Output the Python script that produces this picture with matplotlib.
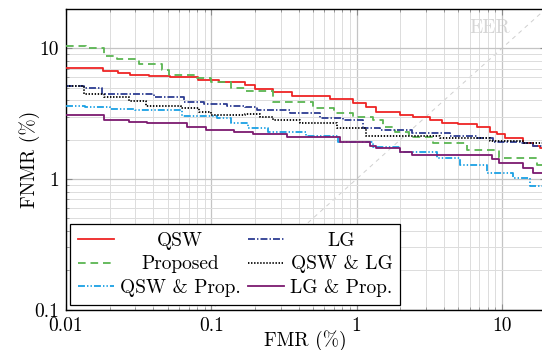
import matplotlib
matplotlib.use("Agg")
import matplotlib.pyplot as plt
from matplotlib.ticker import FixedLocator, FixedFormatter, LogLocator, NullFormatter

plt.rcParams["font.family"] = "serif"
plt.rcParams["font.serif"] = ["cmr10"]
plt.rcParams["mathtext.fontset"] = "cm"
plt.rcParams["axes.formatter.use_mathtext"] = True
plt.rcParams["lines.scale_dashes"] = False

# step curves: FMR where each level starts, FNMR level (%)
qsw_x = [0.01, 0.018, 0.0229, 0.0276, 0.037, 0.052, 0.081, 0.113, 0.171, 0.2, 0.267, 0.357,
         0.656, 0.944, 1.17, 1.37, 1.99, 2.44, 3.2, 3.85, 4.99, 6.7, 8.27, 9.2, 10.5, 14.0, 16.4, 18.3]
qsw_y = [7.1, 6.74, 6.5, 6.3, 6.13, 6.0, 5.75, 5.55, 5.24, 4.85, 4.65, 4.31,
         4.09, 3.84, 3.54, 3.27, 3.08, 2.96, 2.83, 2.67, 2.62, 2.51, 2.30, 2.20, 2.07, 1.90, 1.79, 1.72]

prop_x = [0.01, 0.0137, 0.0183, 0.0226, 0.0318, 0.046, 0.051, 0.080, 0.099, 0.136, 0.171, 0.267,
          0.503, 0.7, 0.944, 1.30, 1.52, 1.84, 2.3, 3.36, 5.73, 9.6, 17.5]
prop_y = [10.4, 10.0, 8.73, 8.24, 7.54, 6.82, 6.25, 5.96, 5.55, 4.94, 4.74, 3.9,
          3.47, 3.21, 2.99, 2.83, 2.51, 2.30, 2.11, 1.90, 1.67, 1.44, 1.28]

lg_x = [0.01, 0.0133, 0.0178, 0.0404, 0.0649, 0.089, 0.129, 0.171, 0.205, 0.348, 0.56, 0.806,
        1.11, 1.45, 2.4, 4.4, 6.7, 8.7, 13.3, 16.3]
lg_y = [5.18, 4.94, 4.47, 4.22, 3.9, 3.74, 3.62, 3.54, 3.37, 3.18, 2.91, 2.83,
        2.44, 2.37, 2.24, 2.14, 2.05, 1.93, 1.88, 1.79]

qsw_lg_x = [0.01, 0.0133, 0.0183, 0.0272, 0.0354, 0.0615, 0.082, 0.099, 0.171, 0.216, 0.267,
            0.407, 0.73, 1.17, 3.75, 8.27, 14.0]
qsw_lg_y = [5.18, 4.47, 4.22, 3.95, 3.65, 3.47, 3.27, 3.09, 3.12, 2.99, 2.83,
            2.7, 2.44, 2.14, 2.07, 1.96, 1.88]

qsw_prop_x = [0.01, 0.0135, 0.02, 0.03, 0.0628, 0.11, 0.136, 0.179, 0.245, 0.45, 0.745,
              1.30, 2.0, 3.57, 5.15, 7.9, 11.9, 15.6]
qsw_prop_y = [3.65, 3.57, 3.45, 3.37, 3.03, 2.91, 2.7, 2.44, 2.30, 2.14, 1.93,
              1.75, 1.6, 1.44, 1.28, 1.12, 1.01, 0.89]

lg_prop_x = [0.01, 0.0183, 0.0272, 0.0363, 0.068, 0.0914, 0.143, 0.194, 0.33, 0.77, 1.24,
             1.37, 2.0, 2.4, 8.5, 9.5, 14.0, 16.5]
lg_prop_y = [3.09, 2.83, 2.75, 2.67, 2.51, 2.37, 2.30, 2.22, 2.09, 1.93, 1.8,
             1.72, 1.62, 1.52, 1.42, 1.33, 1.21, 1.11]

eer_line = [0.01, 20]
x_range = (0.01, 20)
y_range = (0.1, 20)
x_ticks = [0.01, 0.1, 1, 10]
x_labels = ["0.01", "0.1", "1", "10"]
y_ticks = [0.1, 1, 10]
y_labels = ["0.1", "1", "10"]

series = [
    ("QSW", qsw_x, qsw_y, "#ee2424", "-"),
    ("Proposed", prop_x, prop_y, "#5ab552", (0, (5.5, 3.5))),
    ("QSW & Prop.", qsw_prop_x, qsw_prop_y, "#1aa0e4", (0, (5, 1.5, 1, 1.5, 1, 1.5))),
    ("LG", lg_x, lg_y, "#2d3d92", (0, (5, 1.5, 1, 1.5))),
    ("QSW & LG", qsw_lg_x, qsw_lg_y, "black", (0, (1, 1.2))),
    ("LG & Prop.", lg_prop_x, lg_prop_y, "#7c1a70", "-"),
]

fig = plt.figure(figsize=(5.42, 3.5), dpi=100)
ax = fig.add_axes([66 / 542, 40.3 / 350, 479.6 / 542, 300.7 / 350])
ax.set_xscale("log")
ax.set_yscale("log")

ax.plot(eer_line, eer_line, color="#cfcfcf", lw=0.7, ls=(0, (3, 3)), zorder=1)
ax.text(8.3, 14.3, "EER", color="#d6d6d6", fontsize=14, ha="center", va="center", zorder=1)

for label, xs, ys, color, ls in series:
    ax.step(xs + [x_range[1]], ys + [ys[-1]], where="post", color=color, ls=ls,
            lw=1.3, label=label, zorder=3)

ax.set_xlim(*x_range)
ax.set_ylim(*y_range)
ax.xaxis.set_major_locator(FixedLocator(x_ticks))
ax.xaxis.set_major_formatter(FixedFormatter(x_labels))
ax.yaxis.set_major_locator(FixedLocator(y_ticks))
ax.yaxis.set_major_formatter(FixedFormatter(y_labels))
for axis in (ax.xaxis, ax.yaxis):
    axis.set_minor_locator(LogLocator(base=10, subs=range(2, 10)))
    axis.set_minor_formatter(NullFormatter())

ax.grid(True, which="major", color="#c4c4c4", lw=0.9, zorder=0)
ax.grid(True, which="minor", color="#dcdcdc", lw=0.7, zorder=0)
ax.tick_params(which="both", direction="in", top=True, right=True, color="0.55",
               labelsize=14)
ax.tick_params(axis="x", pad=5.5)
ax.tick_params(axis="y", pad=5)
ax.tick_params(which="major", length=4, width=0.8)
ax.tick_params(which="minor", length=2.5, width=0.6)
for sp in ax.spines.values():
    sp.set_linewidth(1.0)

ax.set_xlabel("FMR (%)", fontsize=14, labelpad=-4)
ax.set_ylabel("FNMR (%)", fontsize=14, labelpad=-4)

leg = ax.legend(ncol=2, loc="lower left", bbox_to_anchor=(0.0083, 0.0156), borderaxespad=0,
                fontsize=14, frameon=True, fancybox=False, edgecolor="black",
                handlelength=1.86, handletextpad=0.3, columnspacing=0.4,
                labelspacing=0.3, borderpad=0.4)
leg.get_frame().set_linewidth(0.9)
leg.get_frame().set_alpha(1)

# centre legend labels inside their column, like pgfplots does
fig.canvas.draw()
texts = leg.get_texts()
for col in (texts[:3], texts[3:]):
    widths = [t.get_window_extent().width for t in col]
    wmax = max(widths)
    for t, w in zip(col, widths):
        t.set_x((wmax - w) / 2)

fig.savefig("out.png", dpi=100)
